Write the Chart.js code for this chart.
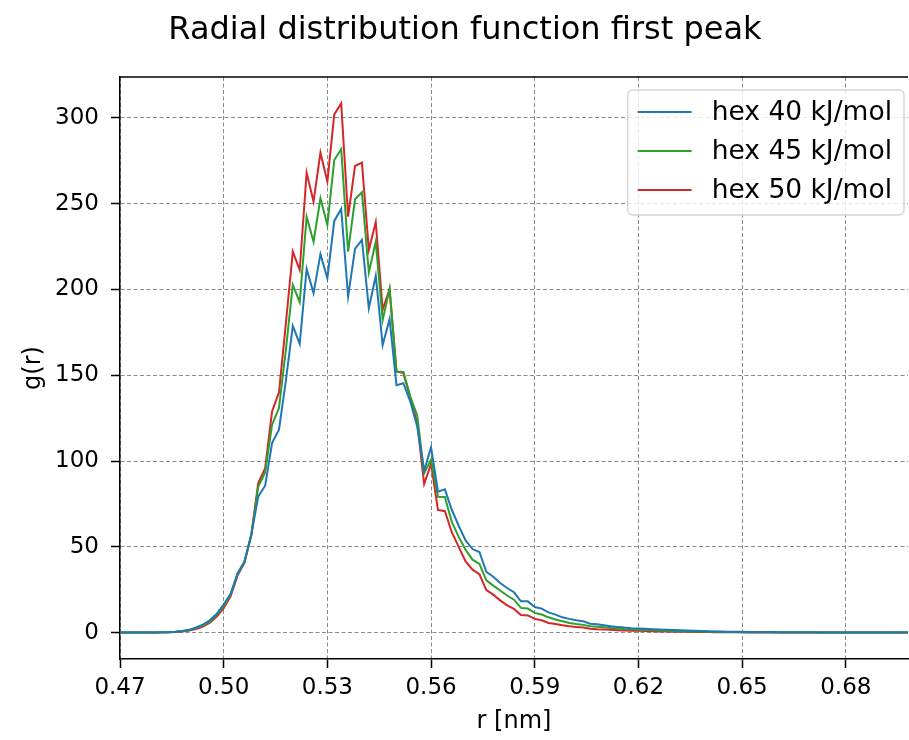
<!DOCTYPE html>
<html>
<head>
<meta charset="utf-8">
<script src="https://cdn.jsdelivr.net/npm/chart.js@4/dist/chart.umd.min.js"></script>
<style>
  html, body { margin: 0; padding: 0; background: #fff; }
  canvas { display: block; }
</style>
</head>
<body>
<canvas id="graph" width="909" height="740"></canvas>
<script>
// r grid [nm], every 0.002
const r = [
  0.470, 0.472, 0.474, 0.476, 0.478, 0.480, 0.482, 0.484, 0.486, 0.488,
  0.490, 0.492, 0.494, 0.496, 0.498, 0.500, 0.502, 0.504, 0.506, 0.508,
  0.510, 0.512, 0.514, 0.516, 0.518, 0.520, 0.522, 0.524, 0.526, 0.528,
  0.530, 0.532, 0.534, 0.536, 0.538, 0.540, 0.542, 0.544, 0.546, 0.548,
  0.550, 0.552, 0.554, 0.556, 0.558, 0.560, 0.562, 0.564, 0.566, 0.568,
  0.570, 0.572, 0.574, 0.576, 0.578, 0.580, 0.582, 0.584, 0.586, 0.588,
  0.590, 0.592, 0.594, 0.596, 0.598, 0.600, 0.602, 0.604, 0.606, 0.608,
  0.610, 0.612, 0.614, 0.616, 0.618, 0.620, 0.622, 0.624, 0.626, 0.628,
  0.630, 0.632, 0.634, 0.636, 0.638, 0.640, 0.642, 0.644, 0.646, 0.648,
  0.650, 0.652, 0.654, 0.656, 0.658, 0.660, 0.662, 0.664, 0.666, 0.668,
  0.670, 0.672, 0.674, 0.676, 0.678, 0.680, 0.682, 0.684, 0.686, 0.688,
  0.690, 0.692, 0.694, 0.696, 0.698
];

const hex40 = [
  0, 0, 0, 0, 0.05, 0.1, 0.15, 0.25, 0.5, 0.9,
  1.6, 3.0, 4.6, 7.2, 11.0, 16.5, 22.5, 34.5, 41.5, 57.0,
  79.4, 85.6, 110.5, 118.3, 147.0, 178.8, 168.3, 212.0, 197.9, 220.6,
  206.6, 240.0, 247.0, 195.9, 223.7, 228.9, 189.1, 208.0, 167.6, 182.8,
  144.2, 145.4, 134.7, 120.2, 94.4, 108.0, 82.2, 83.5, 71.6, 62.3,
  53.7, 48.7, 47.0, 35.4, 32.6, 28.9, 26.0, 23.5, 18.2, 18.2,
  14.9, 14.0, 11.8, 10.5, 8.9, 8.0, 7.2, 6.6, 5.2, 4.9,
  4.3, 3.7, 3.3, 2.9, 2.6, 2.4, 2.2, 2.0, 1.8, 1.6,
  1.45, 1.3, 1.15, 1.0, 0.9, 0.8, 0.7, 0.6, 0.55, 0.5,
  0.45, 0.4, 0.35, 0.3, 0.27, 0.24, 0.21, 0.19, 0.17, 0.15,
  0.13, 0.12, 0.1, 0.09, 0.08, 0.07, 0.06, 0.05, 0.05, 0.04,
  0.04, 0.03, 0.03, 0.02, 0.02
];

const hex45 = [
  0, 0, 0, 0, 0.05, 0.1, 0.15, 0.25, 0.45, 0.8,
  1.4, 2.6, 4.1, 6.4, 10.2, 15.5, 22.0, 34.0, 41.0, 57.0,
  85.2, 93.4, 121.2, 130.9, 165.0, 202.7, 192.6, 242.5, 227.9, 253.2,
  237.7, 275.5, 281.9, 222.1, 252.6, 256.7, 209.9, 227.9, 182.3, 200.4,
  152.2, 152.0, 137.6, 126.6, 93.0, 100.8, 79.2, 79.0, 64.5, 55.8,
  48.3, 42.5, 40.0, 30.5, 27.4, 24.5, 21.6, 19.2, 14.4, 14.0,
  11.5, 10.5, 8.9, 7.6, 6.6, 5.6, 5.0, 4.5, 3.7, 3.4,
  3.1, 2.7, 2.4, 2.1, 1.9, 1.7, 1.5, 1.35, 1.2, 1.05,
  0.95, 0.85, 0.75, 0.65, 0.57, 0.5, 0.44, 0.38, 0.33, 0.29,
  0.26, 0.23, 0.2, 0.18, 0.16, 0.14, 0.12, 0.11, 0.1, 0.09,
  0.08, 0.07, 0.06, 0.05, 0.05, 0.04, 0.04, 0.03, 0.03, 0.03,
  0.02, 0.02, 0.02, 0.01, 0.01
];

const hex50 = [
  0, 0, 0, 0, 0.03, 0.08, 0.12, 0.2, 0.35, 0.65,
  1.2, 2.1, 3.5, 5.8, 9.3, 14.2, 21.1, 33.2, 40.6, 57.1,
  87.2, 95.9, 128.9, 140.0, 180.4, 222.1, 211.4, 268.1, 251.3, 279.8,
  262.9, 302.1, 308.5, 242.5, 272.0, 274.0, 223.1, 239.2, 188.2, 200.3,
  152.2, 151.3, 136.7, 122.1, 86.6, 98.3, 71.5, 70.8, 58.5, 50.0,
  41.5, 36.7, 34.0, 24.8, 22.1, 18.8, 15.9, 13.8, 10.3, 10.0,
  8.0, 7.2, 5.6, 5.0, 4.3, 3.7, 3.3, 2.9, 2.3, 2.0,
  1.8, 1.6, 1.4, 1.2, 1.1, 1.0, 0.9, 0.8, 0.7, 0.62,
  0.55, 0.48, 0.42, 0.37, 0.32, 0.28, 0.24, 0.21, 0.18, 0.16,
  0.14, 0.12, 0.1, 0.09, 0.08, 0.07, 0.06, 0.05, 0.05, 0.04,
  0.04, 0.03, 0.03, 0.03, 0.02, 0.02, 0.02, 0.01, 0.01, 0.01,
  0.01, 0.01, 0.01, 0, 0
];

const labels = ['hex 40 kJ/mol', 'hex 45 kJ/mol', 'hex 50 kJ/mol'];
const colors = ['#1f77b4', '#2ca02c', '#d62728'];
const xTicks = [0.47, 0.50, 0.53, 0.56, 0.59, 0.62, 0.65, 0.68];
const yTicks = [0, 50, 100, 150, 200, 250, 300];

const family = '"DejaVu Sans", sans-serif';

const toPoints = ys => r.map((x, i) => ({x, y: ys[i]}));

// matplotlib style: top spine and an in-axes legend box
const topSpine = {
  id: 'topSpine',
  afterDatasetsDraw(chart) {
    const {ctx, chartArea: a} = chart;
    ctx.save();
    ctx.strokeStyle = '#000';
    ctx.lineWidth = 1.5;
    ctx.beginPath();
    ctx.moveTo(a.left, a.top);
    ctx.lineTo(a.right, a.top);
    ctx.stroke();
    ctx.restore();
  },
};

const boxLegend = {
  id: 'boxLegend',
  afterDraw(chart) {
    const {ctx, chartArea: a} = chart;
    const sets = chart.data.datasets;
    ctx.save();
    ctx.font = '26.5px ' + family;
    const tw = Math.max(...sets.map(d => ctx.measureText(d.label).width));
    const w = 84 + tw + 12, h = 125;
    const x = a.right - 4 - w, y = a.top + 13;
    ctx.beginPath();
    ctx.roundRect(x, y, w, h, 5);
    ctx.fillStyle = 'rgba(255,255,255,0.8)';
    ctx.fill();
    ctx.strokeStyle = 'rgba(204,204,204,0.8)';
    ctx.lineWidth = 1.5;
    ctx.stroke();
    sets.forEach((d, i) => {
      const cy = y + 22 + i * 39;
      ctx.strokeStyle = d.borderColor;
      ctx.lineWidth = 2;
      ctx.beginPath();
      ctx.moveTo(x + 10, cy);
      ctx.lineTo(x + 64, cy);
      ctx.stroke();
      ctx.fillStyle = '#000';
      ctx.textBaseline = 'middle';
      ctx.fillText(d.label, x + 84, cy + 1);
    });
    ctx.restore();
  },
};

const tickFont = {family, size: 23};
const gridCommon = {color: '#8a8a8a', lineWidth: 1, tickLength: 9, tickColor: '#000', tickWidth: 1.5};
const borderCommon = {color: '#000', width: 1.5, dash: [4, 2.5]};

const chart = new Chart(document.getElementById('graph'), {
  type: 'line',
  data: {
    datasets: [hex40, hex45, hex50].map((ys, i) => ({
      label: labels[i],
      data: toPoints(ys),
      borderColor: colors[i],
      backgroundColor: colors[i],
      borderWidth: 2,
      pointRadius: 0,
      tension: 0,
      fill: false,
    })),
  },
  options: {
    responsive: false,
    animation: false,
    layout: {padding: {left: 22, right: 1, top: 0, bottom: 0}},
    plugins: {
      legend: {display: false},
      tooltip: {enabled: false},
      title: {
        display: true,
        text: 'Radial distribution function first peak',
        color: '#000',
        font: {family, size: 32, weight: 'normal'},
        padding: {top: 11, bottom: 27.6},
      },
    },
    scales: {
      x: {
        type: 'linear',
        min: 0.47,
        max: 0.698,
        afterBuildTicks: s => { s.ticks = xTicks.map(v => ({value: v})); },
        afterFit: s => { s.height = 81; },
        ticks: {font: tickFont, color: '#000', padding: 6, maxRotation: 0,
                callback: v => v.toFixed(2)},
        grid: gridCommon,
        border: borderCommon,
        title: {display: true, text: 'r [nm]', color: '#000',
                font: {family, size: 24}, padding: {top: 0, bottom: 4}},
      },
      y: {
        min: -15.4,
        max: 323.9,
        afterBuildTicks: s => { s.ticks = yTicks.map(v => ({value: v})); },
        afterFit: s => { s.width = 98; },
        ticks: {font: tickFont, color: '#000', padding: 12},
        grid: gridCommon,
        border: borderCommon,
        title: {display: true, text: 'g(r)', color: '#000',
                font: {family, size: 24}, padding: {top: -3, bottom: 0}},
      },
    },
  },
  plugins: [topSpine, boxLegend],
});
</script>
</body>
</html>
